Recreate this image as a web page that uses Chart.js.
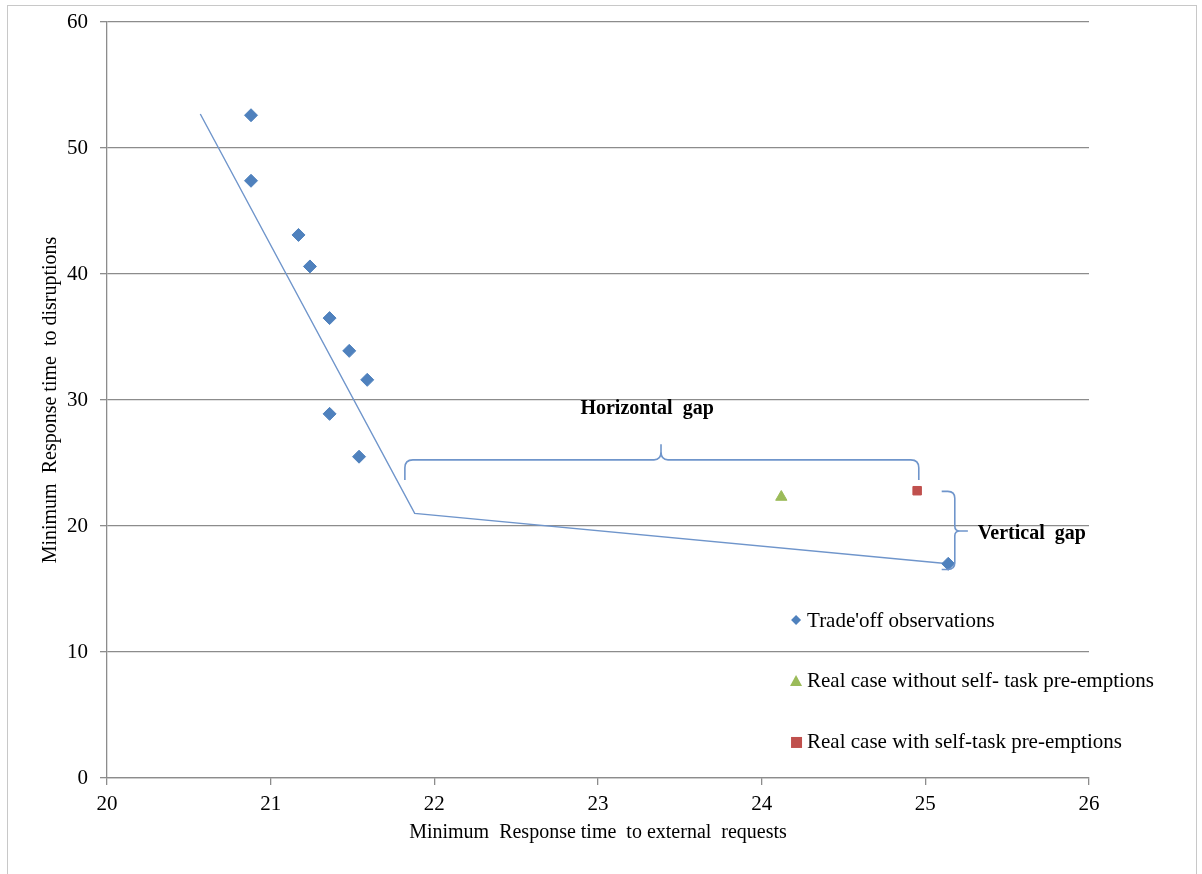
<!DOCTYPE html>
<html>
<head>
<meta charset="utf-8">
<script src="https://cdn.jsdelivr.net/npm/chart.js@4/dist/chart.umd.min.js"></script>
<style>
  html, body { margin: 0; padding: 0; background: #fff; }
  #wrap { position: relative; width: 1202px; height: 874px; }
  #frame { position: absolute; left: 7px; top: 5px; width: 1190px; height: 880px; border: 1px solid #c8c8c8; box-sizing: border-box; pointer-events: none; }
</style>
</head>
<body>
<div id="wrap">
  <canvas id="grafico" width="1202" height="874"></canvas>
  <div id="frame"></div>
</div>
<script>
// ---- dados ----
const tradeoffX = [20.88, 20.88, 21.17, 21.24, 21.36, 21.48, 21.59, 21.36, 21.54, 25.14];
const tradeoffY = [52.6, 47.4, 43.1, 40.6, 36.5, 33.9, 31.6, 28.9, 25.5, 17.0];
const semPreX = [24.12];
const semPreY = [22.3];
const comPreX = [24.95];
const comPreY = [22.8];
const linhaX = [20.57, 21.88, 25.14];
const linhaY = [52.7, 21.0, 17.0];

const xTicks = [20, 21, 22, 23, 24, 25, 26];
const yTicks = [0, 10, 20, 30, 40, 50, 60];

const legendas = [
  "Trade'off observations",
  'Real case without self- task pre-emptions',
  'Real case with self-task pre-emptions'
];

const serif = '"Liberation Serif", "Times New Roman", serif';
const azul = '#4f81bd';
const linhaCor = '#6f95cb';

function pontos(xs, ys) {
  return xs.map((x, i) => ({ x: x, y: ys[i] }));
}

// ---- chaves (anotações em coordenadas dos dados) ----
const chaveHoriz = { x1: 21.82, x2: 24.96, xTip: 23.385, yBase: 25.25, yEnd: 23.65, yTip: 26.8 };
const chaveVert = { y1: 22.75, y2: 16.55, yTip: 19.6, xBase: 25.18, xEnd: 25.1, xTip: 25.26 };

const anotacoes = {
  id: 'anotacoes',
  afterDatasetsDraw(chart) {
    const ctx = chart.ctx;
    const sx = chart.scales.x, sy = chart.scales.y;
    ctx.save();
    ctx.strokeStyle = linhaCor;
    ctx.lineWidth = 1.6;

    // chave horizontal
    let h = chaveHoriz;
    let L = sx.getPixelForValue(h.x1), R = sx.getPixelForValue(h.x2), T = sx.getPixelForValue(h.xTip);
    let yb = sy.getPixelForValue(h.yBase), ye = sy.getPixelForValue(h.yEnd), yt = sy.getPixelForValue(h.yTip);
    ctx.beginPath();
    ctx.moveTo(L, ye);
    ctx.lineTo(L, yb + 8);
    ctx.quadraticCurveTo(L, yb, L + 8, yb);
    ctx.lineTo(T - 7, yb);
    ctx.quadraticCurveTo(T, yb, T, yb - 8);
    ctx.lineTo(T, yt + 4);
    ctx.moveTo(T, yb - 8);
    ctx.quadraticCurveTo(T, yb, T + 7, yb);
    ctx.lineTo(R - 8, yb);
    ctx.quadraticCurveTo(R, yb, R, yb + 8);
    ctx.lineTo(R, ye);
    ctx.stroke();

    // chave vertical
    let v = chaveVert;
    let Tp = sy.getPixelForValue(v.y1), Bt = sy.getPixelForValue(v.y2), Ty = sy.getPixelForValue(v.yTip);
    let xb = sx.getPixelForValue(v.xBase), xe = sx.getPixelForValue(v.xEnd), xt = sx.getPixelForValue(v.xTip);
    ctx.beginPath();
    ctx.moveTo(xe, Tp);
    ctx.lineTo(xb - 7, Tp);
    ctx.quadraticCurveTo(xb, Tp, xb, Tp + 7);
    ctx.lineTo(xb, Ty - 5);
    ctx.quadraticCurveTo(xb, Ty, xb + 5, Ty);
    ctx.lineTo(xt, Ty);
    ctx.moveTo(xb + 5, Ty);
    ctx.quadraticCurveTo(xb, Ty, xb, Ty + 5);
    ctx.lineTo(xb, Bt - 7);
    ctx.quadraticCurveTo(xb, Bt, xb - 7, Bt);
    ctx.lineTo(xe, Bt);
    ctx.stroke();

    // textos
    ctx.fillStyle = '#000';
    ctx.font = 'bold 20px ' + serif;
    ctx.textBaseline = 'middle';
    ctx.textAlign = 'center';
    ctx.fillText('Horizontal  gap', sx.getPixelForValue(23.3), sy.getPixelForValue(29.3));
    ctx.textAlign = 'left';
    ctx.fillText('Vertical  gap', sx.getPixelForValue(25.32), sy.getPixelForValue(19.4));

    // legenda
    const ds = chart.data.datasets.slice(0, 3);
    const lx = sx.getPixelForValue(24.21);
    ctx.font = '21px ' + serif;
    ds.forEach((d, i) => {
      const ly = sy.getPixelForValue(12.54 - i * 4.84);
      ctx.fillStyle = d.backgroundColor;
      ctx.beginPath();
      if (d.pointStyle === 'rectRot') {
        ctx.moveTo(lx, ly - 5); ctx.lineTo(lx + 5, ly); ctx.lineTo(lx, ly + 5); ctx.lineTo(lx - 5, ly);
      } else if (d.pointStyle === 'triangle') {
        ctx.moveTo(lx, ly - 6); ctx.lineTo(lx + 6, ly + 5); ctx.lineTo(lx - 6, ly + 5);
      } else {
        ctx.rect(lx - 5, ly - 5, 11, 11);
      }
      ctx.closePath();
      ctx.fill();
      ctx.fillStyle = '#000';
      ctx.fillText(d.label, lx + 11, ly + 1);
    });
    ctx.restore();
  }
};

new Chart(document.getElementById('grafico'), {
  type: 'scatter',
  data: {
    datasets: [
      {
        label: legendas[0],
        data: pontos(tradeoffX, tradeoffY),
        backgroundColor: azul,
        borderColor: azul,
        pointStyle: 'rectRot',
        pointRadius: 6.5,
        pointHoverRadius: 6.5
      },
      {
        label: legendas[1],
        data: pontos(semPreX, semPreY),
        backgroundColor: '#9bbb59',
        borderColor: '#9bbb59',
        pointStyle: 'triangle',
        pointRadius: 6.5
      },
      {
        label: legendas[2],
        data: pontos(comPreX, comPreY),
        backgroundColor: '#c0504d',
        borderColor: '#c0504d',
        pointStyle: 'rect',
        pointRadius: 6
      },
      {
        label: 'linha',
        data: pontos(linhaX, linhaY),
        showLine: true,
        borderColor: linhaCor,
        borderWidth: 1.4,
        pointRadius: 0,
        fill: false
      }
    ]
  },
  options: {
    responsive: false,
    animation: false,
    events: [],
    layout: { padding: { top: 22, right: 113, left: 0, bottom: 0 } },
    plugins: { legend: { display: false }, tooltip: { enabled: false } },
    scales: {
      x: {
        type: 'linear',
        min: 20, max: 26,
        afterBuildTicks: s => { s.ticks = xTicks.map(v => ({ value: v })); },
        afterFit: s => { s.height = 96; s.paddingLeft = 0; s.paddingRight = 0; },
        grid: { display: true, drawOnChartArea: false, drawTicks: true, tickLength: 7, color: '#8c8c8c', lineWidth: 1.3 },
        border: { color: '#8c8c8c', width: 1.3 },
        ticks: { color: '#000', font: { family: serif, size: 21 }, padding: 7 },
        title: {
          display: true,
          text: 'Minimum  Response time  to external  requests',
          color: '#000',
          font: { family: serif, size: 20 },
          padding: { top: 0, bottom: 29 }
        }
      },
      y: {
        type: 'linear',
        min: 0, max: 60,
        afterBuildTicks: s => { s.ticks = yTicks.map(v => ({ value: v })); },
        afterFit: s => { s.width = 107; s.paddingTop = 0; s.paddingBottom = 0; },
        grid: { color: '#8c8c8c', lineWidth: 1.3, tickLength: 7, drawTicks: true },
        border: { color: '#8c8c8c', width: 1.3 },
        ticks: { color: '#000', font: { family: serif, size: 21 }, padding: 12 },
        title: {
          display: true,
          text: 'Minimum  Response time  to disruptions',
          color: '#000',
          font: { family: serif, size: 20 },
          padding: { top: 39, bottom: 0 }
        }
      }
    }
  },
  plugins: [anotacoes]
});
</script>
</body>
</html>
